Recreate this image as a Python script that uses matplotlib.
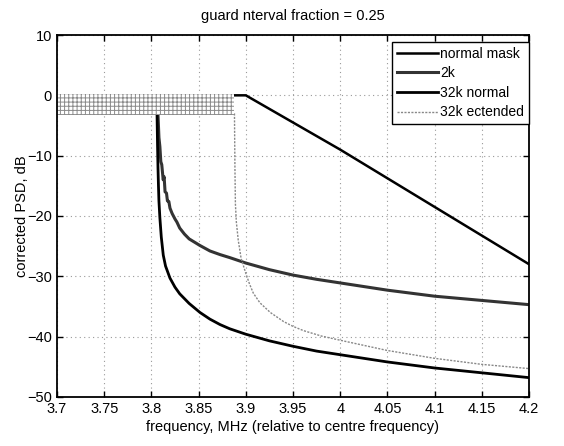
import matplotlib
matplotlib.use("Agg")
import matplotlib.pyplot as plt

plt.rcParams['font.family'] = ['Liberation Sans', 'DejaVu Sans']
plt.rcParams['hatch.linewidth'] = 0.7

# ---- data ----
mask_f = [3.7, 3.9, 4.0, 4.1, 4.2]
mask_v = [0, 0, -9, -18.5, -28]

k2_f = [3.807, 3.808, 3.809, 3.810, 3.811, 3.8125, 3.8135, 3.8145, 3.816, 3.817, 3.8185,
        3.8197, 3.822, 3.825, 3.827, 3.830, 3.835, 3.840, 3.8515, 3.862, 3.8727, 3.883,
        3.9, 3.925, 3.95, 3.975, 4.0, 4.05, 4.1, 4.15, 4.2]
k2_v = [-3.2, -7, -8.5, -11, -11.5, -14, -13.5, -16, -16.2, -17.5, -17.6,
        -18.7, -19.6, -20.5, -21.0, -22, -23, -23.8, -24.9, -25.8, -26.4, -26.9,
        -27.8, -28.9, -29.8, -30.5, -31.1, -32.3, -33.3, -34.0, -34.7]

k32n_f = [3.806, 3.8065, 3.807, 3.8075, 3.808, 3.809, 3.8105, 3.8126, 3.815, 3.8197,
          3.825, 3.830, 3.840, 3.8515, 3.862, 3.8727, 3.883, 3.9, 3.925, 3.95, 3.975,
          4.0, 4.05, 4.1, 4.15, 4.2]
k32n_v = [-3.2, -8, -12, -15, -17.5, -20.3, -23.5, -26.5, -28.3, -30.3,
          -31.8, -32.9, -34.5, -36.0, -37.1, -38.0, -38.7, -39.6, -40.7, -41.6, -42.4,
          -43.0, -44.2, -45.2, -46.0, -46.8]

k32e_f = [3.888, 3.8885, 3.889, 3.890, 3.892, 3.895, 3.9, 3.904, 3.908, 3.915, 3.926,
          3.94, 3.95, 3.961, 3.98, 4.0, 4.05, 4.1, 4.15, 4.2]
k32e_v = [-3.0, -12, -18, -21, -24, -27, -29.5, -31.3, -32.8, -34.4, -36,
          -37.5, -38.3, -39.0, -39.9, -40.6, -42.3, -43.6, -44.6, -45.3]

# in-band ripple band: frequency extent and level limits
inband_f = [3.7, 3.888]
inband_top = 0.3
inband_bottom = -3.2

xticks = [3.7, 3.75, 3.8, 3.85, 3.9, 3.95, 4.0, 4.05, 4.1, 4.15, 4.2]
xticklabels = ['3.7', '3.75', '3.8', '3.85', '3.9', '3.95', '4', '4.05', '4.1', '4.15', '4.2']
yticks = [-50, -40, -30, -20, -10, 0, 10]

fig = plt.figure(figsize=(5.64, 4.46), dpi=100)
ax = fig.add_axes([0.101, 0.110, 0.837, 0.8115])

ax.plot(mask_f, mask_v, color='black', lw=1.8, label='normal mask', zorder=4)
ax.plot(k2_f, k2_v, color='#333333', lw=2.2, label='2k', zorder=4)
ax.plot(k32n_f, k32n_v, color='black', lw=2.0, label='32k normal', zorder=4)
ax.plot(k32e_f, k32e_v, color='#888888', lw=1.0, ls=(0, (1.5, 1)), label='32k ectended', zorder=4)
ax.fill_between(inband_f, inband_bottom, inband_top, facecolor='white',
                edgecolor='#8a8a8a', hatch='++++', linewidth=0, zorder=5)

ax.set_xlim(3.7, 4.2)
ax.set_ylim(-50, 10)
ax.set_xticks(xticks)
ax.set_xticklabels(xticklabels)
ax.set_yticks(yticks)
ax.tick_params(direction='in', labelsize=10.5, length=4, width=1, top=True, right=True)
ax.grid(True, color='#999999', ls=(0, (1, 3)), lw=0.8)
for s in ax.spines.values():
    s.set_linewidth(1.3)
    s.set_zorder(6)

ax.set_xlabel('frequency, MHz (relative to centre frequency)', fontsize=10.5, labelpad=3)
ax.set_ylabel('corrected PSD, dB', fontsize=10.5, labelpad=-1)
ax.set_title('guard nterval fraction = 0.25', fontsize=10.5, pad=11)

leg = ax.legend(loc='upper right', bbox_to_anchor=(1.0, 0.981), fontsize=10,
                frameon=True, fancybox=False, edgecolor='black', borderaxespad=0.0,
                handlelength=2.9, handletextpad=0.2, labelspacing=0.4, borderpad=0.35,
                framealpha=1)
leg.get_frame().set_linewidth(1.0)
leg.set_zorder(10)

fig.savefig('out.png', dpi=100)
